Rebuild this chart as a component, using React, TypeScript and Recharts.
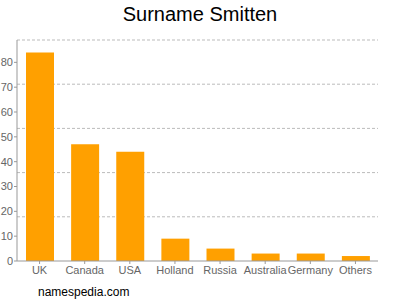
import { Bar, BarChart, CartesianGrid, XAxis, YAxis } from "recharts"

const countries = ["UK", "Canada", "USA", "Holland", "Russia", "Australia", "Germany", "Others"]
const counts = [84, 47, 44, 9, 5, 3, 3, 2]
const yTicks = [0, 10, 20, 30, 40, 50, 60, 70, 80]
const yMax = 89
const gridValues = [17.8, 35.6, 53.4, 71.2, 89]

const data = countries.map((name, i) => ({ name, count: counts[i] }))

export default function App() {
    return (
        <div style={{ position: "absolute", left: 0, top: 0, width: 400, height: 300, background: "#fff", fontFamily: "'Liberation Sans', Arial, sans-serif" }}>
            <div style={{ position: "absolute", top: 3, width: 400, textAlign: "center", fontSize: 20, color: "#000" }}>
                Surname Smitten
            </div>
            <BarChart
                width={400}
                height={300}
                data={data}
                margin={{ top: 40, right: 22, bottom: 14, left: 0 }}
            >
                <CartesianGrid
                    vertical={false}
                    stroke="#bbb"
                    strokeDasharray="3 2"
                    horizontalCoordinatesGenerator={({ offset }: any) =>
                        gridValues.map((v) => offset.top + offset.height * (1 - v / yMax))
                    }
                />
                <XAxis
                    dataKey="name"
                    stroke="#999"
                    tick={{ fill: "#666", fontSize: 11 }}
                    tickSize={3}
                    height={25}
                    interval={0}
                />
                <YAxis
                    domain={[0, yMax]}
                    ticks={yTicks}
                    stroke="#999"
                    tick={{ fill: "#666", fontSize: 11 }}
                    tickSize={3}
                    tickMargin={1}
                    width={17}
                />
                <Bar dataKey="count" fill="#FFA000" barSize={28} isAnimationActive={false} />
            </BarChart>
            <div style={{ position: "absolute", left: 38, top: 285, fontSize: 12, color: "#000" }}>
                namespedia.com
            </div>
        </div>
    )
}
